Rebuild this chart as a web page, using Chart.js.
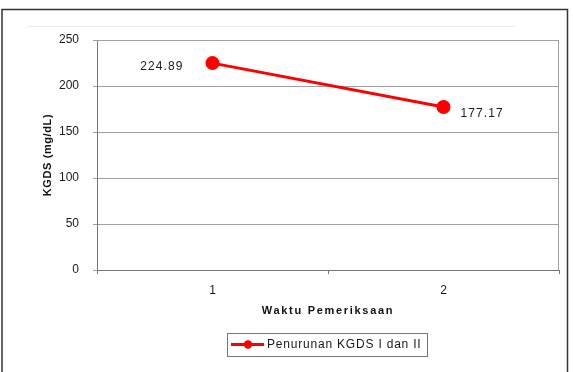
<!DOCTYPE html>
<html>
<head>
<meta charset="utf-8">
<script src="https://cdn.jsdelivr.net/npm/chart.js@4/dist/chart.umd.min.js"></script>
<style>
html,body{margin:0;padding:0;background:#fff;}
#wrap{position:relative;width:573px;height:372px;}
</style>
</head>
<body>
<div id="wrap"><canvas id="c" width="573" height="372"></canvas></div>
<script>
const categories = ['1', '2'];
const seriesValues = [224.89, 177.17];
const valueLabels = ['224.89', '177.17'];
const seriesName = 'Penurunan KGDS I dan II';
const yTicks = [0, 50, 100, 150, 200, 250];
const xTitle = 'Waktu Pemeriksaan';
const yTitle = 'KGDS (mg/dL)';

const FONT = '"Liberation Sans", Arial, sans-serif';

const deco = {
  id: 'deco',
  beforeDraw(chart) {
    const ctx = chart.ctx;
    ctx.save();
    ctx.strokeStyle = '#ececec';
    ctx.lineWidth = 1;
    ctx.beginPath();
    ctx.moveTo(27, 26.5); ctx.lineTo(515, 26.5);
    ctx.stroke();
    ctx.strokeStyle = '#333';
    ctx.lineWidth = 1.5;
    ctx.beginPath();
    ctx.moveTo(2, 380); ctx.lineTo(2, 9.5); ctx.lineTo(567.5, 9.5); ctx.lineTo(567.5, 380);
    ctx.stroke();
    ctx.restore();
  },
  afterDraw(chart) {
    const ctx = chart.ctx;
    const a = chart.chartArea;
    const meta = chart.getDatasetMeta(0);
    ctx.save();
    ctx.fillStyle = '#1a1a1a';
    ctx.font = '12px ' + FONT;
    ctx.textBaseline = 'middle';
    try { ctx.letterSpacing = '1.1px'; } catch (e) {}
    const p0 = meta.data[0], p1 = meta.data[1];
    ctx.textAlign = 'right';
    ctx.fillText(valueLabels[0], p0.x - 29, p0.y + 4);
    ctx.textAlign = 'left';
    ctx.fillText(valueLabels[1], p1.x + 17, p1.y + 7);

    ctx.font = 'bold 11px ' + FONT;
    try { ctx.letterSpacing = '1.7px'; } catch (e) {}
    ctx.textAlign = 'center';
    ctx.fillStyle = '#111';
    ctx.fillText(xTitle, (a.left + a.right) / 2, 311);

    try { ctx.letterSpacing = '0.6px'; } catch (e) {}
    ctx.save();
    ctx.translate(48, (a.top + a.bottom) / 2);
    ctx.rotate(-Math.PI / 2);
    ctx.fillText(yTitle, 0, 0);
    ctx.restore();

    ctx.strokeStyle = '#777';
    ctx.lineWidth = 1;
    ctx.strokeRect(227.5, 333.5, 200, 23);
    ctx.strokeStyle = '#ff0000';
    ctx.lineWidth = 3;
    ctx.beginPath();
    ctx.moveTo(231, 344.5); ctx.lineTo(264, 344.5);
    ctx.stroke();
    ctx.fillStyle = '#ff0000';
    ctx.beginPath();
    ctx.arc(248, 344.5, 4.2, 0, Math.PI * 2);
    ctx.fill();
    ctx.fillStyle = '#1a1a1a';
    ctx.font = '12px ' + FONT;
    try { ctx.letterSpacing = '0.8px'; } catch (e) {}
    ctx.textAlign = 'left';
    ctx.fillText(seriesName, 267, 345);
    ctx.restore();
  }
};

new Chart(document.getElementById('c'), {
  type: 'line',
  data: {
    labels: categories,
    datasets: [{
      label: seriesName,
      data: seriesValues,
      borderColor: '#ff0000',
      backgroundColor: '#ff0000',
      borderWidth: 3,
      pointRadius: 7,
      pointHoverRadius: 7,
      pointBackgroundColor: '#ff0000',
      pointBorderWidth: 0,
      tension: 0,
      fill: false
    }]
  },
  options: {
    responsive: false,
    animation: false,
    events: [],
    layout: { padding: { left: 0, right: 14, top: 40, bottom: 0 } },
    plugins: { legend: { display: false }, tooltip: { enabled: false } },
    scales: {
      x: {
        type: 'category',
        offset: true,
        border: { display: true, color: '#777', width: 1 },
        grid: { display: true, offset: true, drawOnChartArea: false, tickLength: 4, color: '#777' },
        ticks: { color: '#1a1a1a', font: { family: FONT, size: 12 }, padding: 9, maxRotation: 0 },
        afterFit(scale) { scale.height = 102; }
      },
      y: {
        min: 0, max: 250,
        afterBuildTicks(scale) { scale.ticks = yTicks.map(v => ({ value: v })); },
        border: { display: true, color: '#777', width: 1 },
        grid: { color: '#a0a0a0', tickLength: 4, lineWidth: 1 },
        ticks: { color: '#1a1a1a', font: { family: FONT, size: 12 }, padding: 14 },
        afterFit(scale) { scale.width = 97; }
      }
    }
  },
  plugins: [deco, {
    id: 'areaBorder',
    beforeDatasetsDraw(chart) {
      const ctx = chart.ctx, a = chart.chartArea;
      ctx.save();
      ctx.strokeStyle = '#a0a0a0';
      ctx.lineWidth = 1;
      ctx.beginPath();
      ctx.moveTo(a.left, a.top + 0.5); ctx.lineTo(a.right - 0.5, a.top + 0.5); ctx.lineTo(a.right - 0.5, a.bottom);
      ctx.stroke();
      ctx.restore();
    }
  }]
});
</script>
</body>
</html>
